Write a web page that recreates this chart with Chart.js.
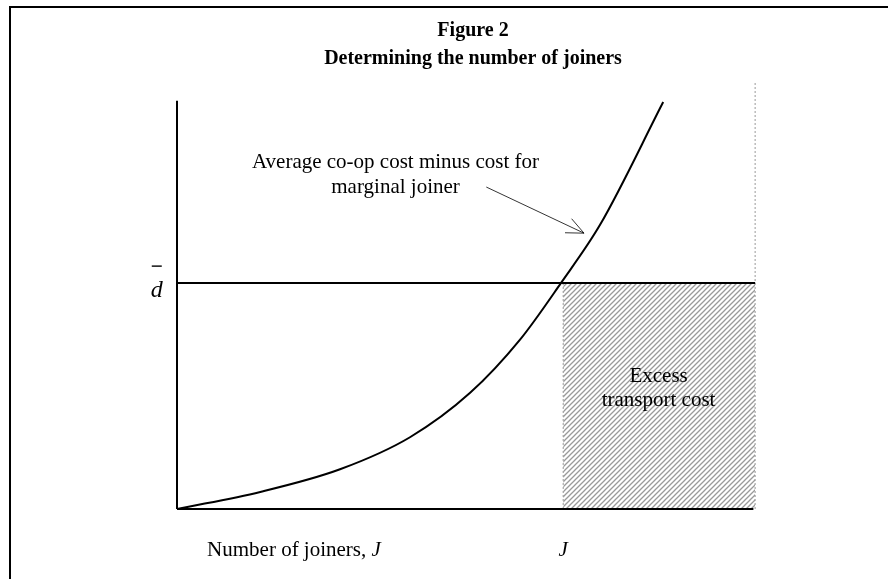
<!DOCTYPE html>
<html lang="en">
<head>
  <meta charset="UTF-8">
  <title>Figure 2 - Determining the number of joiners</title>
  <script src="https://cdn.jsdelivr.net/npm/chart.js"></script>
  <style>
    body {
      margin: 0;
      background: #fff;
      font-family: "Liberation Serif", serif;
    }
    .frame {
      position: absolute;
      left: 9px;
      top: 6px;
      width: 879px;
      height: 573px;
      border-top: 2px solid #000;
      border-left: 2px solid #000;
    }
    .wrap {
      position: absolute;
      left: 0;
      top: 0;
      width: 888px;
      height: 579px;
    }
  </style>
</head>
<body>
  <div class="frame"></div>
  <div class="wrap"><canvas id="chart" width="888" height="579"></canvas></div>

  <script>
    // Curve: average co-op cost minus cost for marginal joiner
    const curveX = [0, 14.4, 28.2, 40.3, 50.7, 59.3, 66.4, 73.2, 84.1];
    const curveY = [0, 4.0, 9.3, 16.8, 27.2, 39.6, 52.9, 66.6, 95.3];

    // Levels
    const dBar = 52.9;      // height of d-bar line
    const jStar = 66.8;     // equilibrium number of joiners
    const xEnd = 100;       // right end of the diagram
    const xAxisEnd = 99.7;
    const yAxisTop = 95.6;

    // Texts
    const titleLines = ['Figure 2', 'Determining the number of joiners'];
    const curveLabel = ['Average co-op cost minus cost for', 'marginal joiner'];
    const areaLabel = ['Excess', 'transport cost'];
    const xLabel = 'Number of joiners, ';
    const jLabel = 'J';
    const dLabel = 'd';

    // Hatch pattern for the excess transport cost area
    function makeHatch(ctx) {
      const s = 5;
      const c = document.createElement('canvas');
      c.width = s;
      c.height = s;
      const g = c.getContext('2d');
      g.fillStyle = '#ffffff';
      g.fillRect(0, 0, s, s);
      g.strokeStyle = '#9a9a9a';
      g.lineWidth = 1.3;
      g.beginPath();
      g.moveTo(0, s); g.lineTo(s, 0);
      g.moveTo(-1, 1); g.lineTo(1, -1);
      g.moveTo(s - 1, s + 1); g.lineTo(s + 1, s - 1);
      g.stroke();
      return ctx.createPattern(c, 'repeat');
    }
    const ctx = document.getElementById('chart').getContext('2d');
    const hatch = makeHatch(ctx);

    function seg(x1, y1, x2, y2) {
      return [{ x: x1, y: y1 }, { x: x2, y: y2 }];
    }

    // Texts and arrow drawn at data positions
    const annotations = {
      id: 'annotations',
      afterDatasetsDraw(chart) {
        const c = chart.ctx;
        const X = v => chart.scales.x.getPixelForValue(v);
        const Y = v => chart.scales.y.getPixelForValue(v);
        c.save();
        c.fillStyle = '#000';
        c.textAlign = 'center';
        c.textBaseline = 'alphabetic';

        // curve label
        c.font = '21px "Liberation Serif"';
        c.fillText(curveLabel[0], X(37.8), Y(79.8));
        c.fillText(curveLabel[1], X(37.8), Y(74.0));

        // arrow to the curve
        const ax1 = X(53.5), ay1 = Y(75.4), ax2 = X(70.4), ay2 = Y(64.6);
        c.strokeStyle = '#000';
        c.lineWidth = 0.8;
        c.beginPath();
        c.moveTo(ax1, ay1);
        c.lineTo(ax2, ay2);
        const ang = Math.atan2(ay2 - ay1, ax2 - ax1);
        const len = 19, spread = 0.42;
        c.moveTo(ax2 - len * Math.cos(ang - spread), ay2 - len * Math.sin(ang - spread));
        c.lineTo(ax2, ay2);
        c.lineTo(ax2 - len * Math.cos(ang + spread), ay2 - len * Math.sin(ang + spread));
        c.stroke();

        // area label
        c.font = '21px "Liberation Serif"';
        c.fillText(areaLabel[0], X(83.3), Y(29.8));
        c.fillText(areaLabel[1], X(83.3), Y(24.2));

        // d-bar on the y side
        c.font = 'italic 24px "Liberation Serif"';
        const dx = X(-3.5), dy = Y(dBar) + 14;
        c.fillText(dLabel, dx, dy);
        c.lineWidth = 1.4;
        c.beginPath();
        c.moveTo(dx - 5, Y(dBar) - 17);
        c.lineTo(dx + 5, Y(dBar) - 17);
        c.stroke();

        // x axis texts
        c.textAlign = 'left';
        c.font = '21px "Liberation Serif"';
        const x0 = X(5.2), by = Y(0) + 47;
        c.fillText(xLabel, x0, by);
        const w = c.measureText(xLabel).width;
        c.font = 'italic 21px "Liberation Serif"';
        c.fillText(jLabel, x0 + w, by);
        c.textAlign = 'center';
        c.fillText(jLabel, X(jStar), by);
        c.restore();
      }
    };

    new Chart(ctx, {
      type: 'scatter',
      data: {
        datasets: [
          {
            // excess transport cost area
            data: seg(jStar, dBar, xEnd, dBar),
            showLine: true,
            borderWidth: 0,
            borderColor: 'rgba(0,0,0,0)',
            backgroundColor: hatch,
            fill: 'origin',
            pointRadius: 0,
            order: 5
          },
          {
            data: seg(jStar, 0, jStar, dBar),
            showLine: true,
            borderColor: '#9a9a9a',
            borderWidth: 1,
            borderDash: [2, 2],
            pointRadius: 0,
            clip: false,
            order: 4
          },
          {
            data: seg(xEnd, 0, xEnd, 100),
            showLine: true,
            borderColor: '#9a9a9a',
            borderWidth: 1,
            borderDash: [2, 2],
            pointRadius: 0,
            clip: false,
            order: 4
          },
          {
            // d-bar line
            data: seg(0, dBar, xEnd, dBar),
            showLine: true,
            borderColor: '#000',
            borderWidth: 2,
            pointRadius: 0,
            clip: false,
            order: 2
          },
          {
            // axes
            data: seg(0, 0, xAxisEnd, 0),
            showLine: true,
            borderColor: '#000',
            borderWidth: 2,
            pointRadius: 0,
            clip: false,
            order: 2
          },
          {
            data: seg(0, 0, 0, yAxisTop),
            showLine: true,
            borderColor: '#000',
            borderWidth: 2,
            pointRadius: 0,
            clip: false,
            order: 2
          },
          {
            // cost curve
            data: curveX.map((x, i) => ({ x: x, y: curveY[i] })),
            showLine: true,
            borderColor: '#000',
            borderWidth: 2,
            cubicInterpolationMode: 'monotone',
            pointRadius: 0,
            clip: false,
            order: 1
          }
        ]
      },
      options: {
        responsive: false,
        animation: false,
        events: [],
        // right padding leaves room so the title centres over the picture like the original
        layout: { padding: { left: 177, right: 119, bottom: 70, top: 0 } },
        scales: {
          x: { type: 'linear', min: 0, max: 102.4, display: false },
          y: { type: 'linear', min: 0, max: 100, display: false }
        },
        plugins: {
          legend: { display: false },
          tooltip: { enabled: false },
          title: {
            display: true,
            text: titleLines,
            color: '#000',
            font: { family: '"Liberation Serif"', size: 20, weight: 'bold', lineHeight: 1.4 },
            padding: { top: 17, bottom: 9 }
          }
        }
      },
      plugins: [annotations]
    });
  </script>
</body>
</html>
